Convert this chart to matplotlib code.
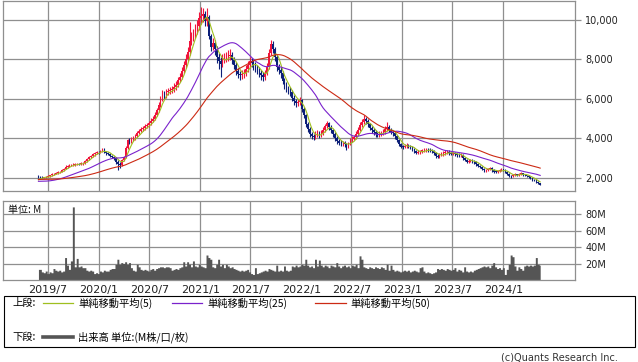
import matplotlib
matplotlib.use('Agg')
import matplotlib.pyplot as plt
import matplotlib.dates as mdates
from matplotlib.lines import Line2D
from matplotlib.patches import Rectangle
import numpy as np
import pandas as pd

W, H = 638, 362

# ---------------- data ----------------
week_start = '2019-05-27'

pre_close = [1950, 1970, 2000, 2020, 2010, 1990, 1980, 2000, 2030, 2050, 2040, 2020, 2000,
             1990, 2010, 2030, 2020, 2000, 1990, 1980, 1970, 1990, 2000, 2010, 1990,
             1980, 1960, 1950, 1930, 1900, 1870, 1840,
             1800, 1760, 1720, 1700, 1680, 1690, 1700, 1720, 1740, 1730, 1750, 1760, 1780,
             1790, 1800, 1850, 1950]

open_ = [
    2080, 2050, 2030, 2000, 2010, 2040, 2060, 2120, 2180, 2210,
    2230, 2280, 2300, 2380, 2450, 2560, 2600, 2620, 2640, 2660,
    2680, 2700, 2690, 2720, 2730, 2850, 2950, 3050, 3100, 3180,
    3250, 3300, 3280, 3350, 3450, 3300, 3230, 3200, 3120, 3060,
    3000, 2800, 2700, 2650, 2900, 3060, 3500, 3900, 3850, 3950,
    3990, 4100, 4250, 4380, 4450, 4500, 4620, 4660, 4750, 4880,
    4980, 5200, 5420, 5700, 6000, 6300, 6200, 6350, 6400, 6430,
    6500, 6600, 6700, 6950, 7100, 7400, 7690, 8000, 8350, 8900,
    9100, 9290, 9500, 9700, 10100, 10200, 10300, 9960, 10150, 9200,
    8620, 8800, 8500, 8110, 7900, 7780, 8000, 8060, 8110, 8150,
    8200, 7950, 7700, 7400, 7250, 7190, 7230, 7300, 7500, 7700,
    7900, 7800, 7690, 7580, 7480, 7300, 7200, 7100, 7300, 7600,
    8300, 8790, 8500, 8100, 7600, 7450, 7300, 6900, 6700, 6520,
    6450, 6340, 6050, 5880, 5780, 5850, 5920, 5500, 5150, 4700,
    4450, 4200, 4100, 4070, 4200, 4240, 4150, 4250, 4410, 4600,
    4750, 4550, 4400, 4200, 4000, 3850, 3780, 3740, 3740, 3700,
    3600, 3700, 3900, 3980, 4050, 4200, 4400, 4650, 4800, 4950,
    4850, 4700, 4520, 4400, 4300, 4200, 4160, 4220, 4250, 4320,
    4450, 4580, 4400, 4320, 4250, 4100, 3900, 3700, 3570, 3560,
    3600, 3650, 3600, 3560, 3450, 3350, 3250, 3280, 3310, 3380,
    3400, 3420, 3400, 3380, 3350, 3230, 3100, 3060, 3150, 3200,
    3230, 3280, 3310, 3250, 3220, 3230, 3200, 3150, 3140, 3150,
    3000, 2900, 2810, 2850, 2890, 2830, 2780, 2680, 2600, 2560,
    2450, 2380, 2390, 2420, 2470, 2380, 2300, 2290, 2320, 2380,
    2400, 2390, 2300, 2200, 2100, 2060, 2140, 2150, 2140, 2200,
    2220, 2150, 2120, 2080, 2050, 1970, 1900, 1880, 1780, 1720]

high = [
    2120, 2080, 2060, 2050, 2080, 2110, 2160, 2230, 2260, 2280,
    2330, 2360, 2430, 2500, 2620, 2660, 2680, 2700, 2740, 2740,
    2760, 2760, 2780, 2790, 2900, 3010, 3110, 3170, 3240, 3310,
    3370, 3360, 3420, 3520, 3480, 3350, 3290, 3250, 3170, 3110,
    3050, 2880, 2800, 2960, 3120, 3580, 3980, 4000, 4050, 4100,
    4200, 4350, 4480, 4560, 4620, 4720, 4780, 4870, 5000, 5100,
    5320, 5550, 5850, 6150, 6450, 6400, 6500, 6550, 6580, 6650,
    6780, 6880, 7100, 7280, 7600, 7900, 8250, 8600, 9880, 9400,
    9550, 9800, 10000, 10400, 10640, 10600, 10450, 10600, 10250, 9300,
    9100, 8950, 8650, 8300, 8100, 8250, 8300, 8350, 8450, 8500,
    8350, 8100, 7850, 7550, 7400, 7450, 7500, 7700, 7900, 8100,
    8050, 7950, 7850, 7700, 7600, 7450, 7350, 7450, 7800, 8500,
    8960, 8900, 8600, 8200, 7750, 7600, 7400, 7050, 6850, 6650,
    6600, 6450, 6200, 6000, 6000, 6100, 6000, 5600, 5250, 4800,
    4550, 4300, 4200, 4350, 4400, 4350, 4400, 4550, 4720, 4850,
    4800, 4650, 4480, 4300, 4100, 3950, 3900, 3880, 3850, 3780,
    3820, 4000, 4100, 4180, 4350, 4550, 4800, 4950, 5170, 5050,
    4950, 4780, 4600, 4500, 4400, 4320, 4350, 4380, 4450, 4600,
    4830, 4650, 4500, 4420, 4330, 4150, 3950, 3750, 3680, 3700,
    3750, 3720, 3680, 3600, 3500, 3400, 3380, 3420, 3470, 3500,
    3520, 3500, 3480, 3450, 3400, 3300, 3200, 3240, 3300, 3350,
    3380, 3400, 3380, 3320, 3320, 3300, 3260, 3230, 3240, 3200,
    3050, 2950, 2930, 2960, 2950, 2890, 2830, 2730, 2660, 2600,
    2500, 2460, 2490, 2540, 2520, 2430, 2370, 2390, 2450, 2470,
    2460, 2430, 2340, 2240, 2150, 2200, 2220, 2210, 2260, 2280,
    2260, 2200, 2160, 2130, 2090, 2010, 1950, 1910, 1810, 1750]

low = [
    2000, 1990, 1960, 1970, 1990, 2010, 2040, 2090, 2150, 2170,
    2200, 2240, 2270, 2340, 2420, 2510, 2550, 2570, 2580, 2600,
    2620, 2630, 2640, 2660, 2690, 2800, 2900, 3000, 3050, 3120,
    3200, 3210, 3230, 3300, 3250, 3170, 3130, 3060, 3000, 2920,
    2700, 2390, 2500, 2600, 2850, 3020, 3450, 3700, 3780, 3880,
    3920, 4050, 4200, 4300, 4350, 4420, 4530, 4580, 4680, 4800,
    4900, 5100, 5350, 5600, 5900, 6000, 6050, 6200, 6250, 6300,
    6350, 6450, 6600, 6850, 7000, 7300, 7550, 7900, 8200, 8700,
    8900, 9100, 9300, 9500, 9800, 9900, 9700, 9700, 9000, 8400,
    8450, 8200, 7800, 7500, 7100, 7600, 7800, 7850, 7900, 7950,
    7750, 7500, 7200, 7050, 6950, 7000, 7050, 7150, 7350, 7550,
    7600, 7450, 7350, 7250, 7100, 6950, 6900, 6950, 7200, 7500,
    8200, 8300, 7900, 7400, 7250, 7050, 6750, 6500, 6350, 6250,
    6150, 5900, 5700, 5600, 5650, 5700, 5350, 5000, 4550, 4300,
    4050, 3950, 3900, 3950, 4080, 4000, 4050, 4150, 4300, 4500,
    4400, 4250, 4050, 3850, 3700, 3650, 3600, 3600, 3550, 3400,
    3500, 3650, 3800, 3900, 3950, 4150, 4350, 4550, 4700, 4700,
    4550, 4400, 4250, 4150, 4050, 4050, 4050, 4100, 4150, 4200,
    4350, 4300, 4200, 4100, 3980, 3800, 3600, 3480, 3460, 3480,
    3520, 3500, 3450, 3350, 3250, 3180, 3180, 3200, 3250, 3300,
    3320, 3320, 3300, 3260, 3150, 3000, 2980, 3000, 3080, 3120,
    3170, 3200, 3150, 3130, 3140, 3100, 3060, 3050, 3050, 2920,
    2820, 2740, 2750, 2790, 2760, 2700, 2600, 2530, 2480, 2380,
    2300, 2310, 2340, 2380, 2310, 2230, 2220, 2240, 2280, 2320,
    2320, 2230, 2130, 2040, 2000, 2020, 2090, 2080, 2100, 2150,
    2090, 2060, 2020, 1990, 1920, 1850, 1820, 1730, 1670, 1610]

close = [
    2050, 2030, 2000, 2010, 2040, 2060, 2120, 2180, 2210, 2230,
    2280, 2300, 2380, 2450, 2560, 2600, 2620, 2640, 2660, 2680,
    2700, 2690, 2720, 2730, 2850, 2950, 3050, 3100, 3180, 3250,
    3300, 3280, 3350, 3450, 3300, 3230, 3200, 3120, 3060, 3000,
    2800, 2700, 2650, 2900, 3060, 3500, 3900, 3850, 3950, 3990,
    4100, 4250, 4380, 4450, 4500, 4620, 4660, 4750, 4880, 4980,
    5200, 5420, 5700, 6000, 6300, 6200, 6350, 6400, 6430, 6500,
    6600, 6700, 6950, 7100, 7400, 7690, 8000, 8350, 8900, 9100,
    9290, 9500, 9700, 10100, 10200, 10300, 9960, 10150, 9200, 8620,
    8800, 8500, 8110, 7900, 7780, 8000, 8060, 8110, 8150, 8200,
    7950, 7700, 7400, 7250, 7190, 7230, 7300, 7500, 7700, 7900,
    7800, 7690, 7580, 7480, 7300, 7200, 7100, 7300, 7600, 8300,
    8790, 8500, 8100, 7600, 7450, 7300, 6900, 6700, 6520, 6450,
    6340, 6050, 5880, 5780, 5850, 5920, 5500, 5150, 4700, 4450,
    4200, 4100, 4070, 4200, 4240, 4150, 4250, 4410, 4600, 4750,
    4550, 4400, 4200, 4000, 3850, 3780, 3740, 3740, 3700, 3600,
    3700, 3900, 3980, 4050, 4200, 4400, 4650, 4800, 4950, 4850,
    4700, 4520, 4400, 4300, 4200, 4160, 4220, 4250, 4320, 4450,
    4580, 4400, 4320, 4250, 4100, 3900, 3700, 3570, 3560, 3600,
    3650, 3600, 3560, 3450, 3350, 3250, 3280, 3310, 3380, 3400,
    3420, 3400, 3380, 3350, 3230, 3100, 3060, 3150, 3200, 3230,
    3280, 3310, 3250, 3220, 3230, 3200, 3150, 3140, 3150, 3000,
    2900, 2810, 2850, 2890, 2830, 2780, 2680, 2600, 2560, 2450,
    2380, 2390, 2420, 2470, 2380, 2300, 2290, 2320, 2380, 2400,
    2390, 2300, 2200, 2100, 2060, 2140, 2150, 2140, 2200, 2220,
    2150, 2120, 2080, 2050, 1970, 1900, 1880, 1780, 1720, 1650]

# weekly volume, millions
volume = [
    14, 14, 11, 10, 12, 9, 11, 10, 15, 13,
    12, 13, 11, 12, 28, 19, 14, 24, 88, 17,
    27, 17, 18, 16, 16, 13, 12, 13, 12, 9,
    10, 9, 12, 11, 13, 12, 12, 14, 15, 15,
    20, 26, 20, 22, 21, 23, 20, 22, 16, 13,
    12, 20, 17, 14, 13, 14, 13, 12, 14, 15,
    13, 15, 16, 17, 17, 16, 17, 17, 16, 13,
    14, 15, 14, 16, 17, 23, 18, 23, 20, 17,
    24, 18, 17, 20, 18, 17, 16, 31, 28, 26,
    17, 16, 20, 26, 18, 20, 16, 20, 18, 16,
    17, 15, 14, 13, 12, 13, 12, 13, 14, 11,
    9, 8, 16, 9, 10, 11, 12, 13, 12, 15,
    14, 13, 12, 19, 12, 13, 12, 18, 13, 12,
    13, 18, 17, 19, 17, 18, 20, 19, 26, 19,
    17, 18, 16, 26, 18, 25, 19, 17, 19, 18,
    16, 19, 18, 17, 22, 18, 16, 18, 19, 17,
    18, 16, 19, 18, 20, 16, 30, 26, 17, 16,
    15, 17, 16, 15, 17, 16, 15, 17, 16, 14,
    20, 13, 19, 14, 12, 13, 12, 11, 12, 13,
    12, 13, 11, 12, 13, 12, 11, 16, 17, 12,
    10, 11, 10, 9, 10, 11, 15, 14, 15, 14,
    13, 15, 14, 13, 14, 16, 12, 14, 13, 11,
    17, 12, 11, 12, 11, 13, 14, 15, 16, 17,
    18, 17, 18, 16, 19, 22, 17, 15, 16, 14,
    16, 8, 14, 20, 31, 29, 18, 13, 17, 15,
    13, 18, 19, 18, 19, 18, 19, 28, 20, 19]

ma_periods = [5, 25, 50]
price_ticks = [2000, 4000, 6000, 8000, 10000]
volume_ticks = [20, 40, 60, 80]
x_tick_dates = ['2019-07-01', '2020-01-01', '2020-07-01', '2021-01-01', '2021-07-01',
                '2022-01-01', '2022-07-01', '2023-01-01', '2023-07-01', '2024-01-01']
x_tick_labels = ['2019/7', '2020/1', '2020/7', '2021/1', '2021/7',
                 '2022/1', '2022/7', '2023/1', '2023/7', '2024/1']
legend_labels = ['単純移動平均(5)', '単純移動平均(25)', '単純移動平均(50)']
legend_top = '上段:'
legend_bottom = '下段:'
volume_label = '出来高 単位:(M株/口/枚)'
unit_label = '単位: M'
credit = '(c)Quants Research Inc.'

# ---------------- styles ----------------
UP = '#f0143c'
DOWN = '#0c1f78'
MA_COLORS = ['#9fbf1f', '#7a22cc', '#cc2a14']
GRID = '#8f8f8f'
VOL = '#555555'
CJK = ['Noto Sans CJK JP', 'DejaVu Sans']
plt.rcParams['font.family'] = ['DejaVu Sans', 'Noto Sans CJK JP']

dates = pd.date_range(week_start, periods=len(close), freq='7D')
x = mdates.date2num(dates)
o = np.array(open_, float)
c = np.array(close, float)
hi = np.array(high, float)
lo = np.array(low, float)
series = pd.Series(pre_close + close, dtype=float)
mas = [series.rolling(p).mean().iloc[len(pre_close):].values for p in ma_periods]

fig = plt.figure(figsize=(W / 100, H / 100), dpi=100)
fig.patch.set_facecolor('white')

def box(l, t, r, b):
    return [l / W, 1 - b / H, (r - l) / W, (b - t) / H]

xl = (mdates.date2num(pd.Timestamp('2019-01-20')), mdates.date2num(pd.Timestamp('2024-09-14')))
tick_x = mdates.date2num(pd.to_datetime(x_tick_dates))

ax = fig.add_axes(box(3.3, 0.5, 574.5, 190.7))
axv = fig.add_axes(box(3.3, 201, 574.5, 280))

for a in (ax, axv):
    a.set_xlim(*xl)
    a.set_xticks(tick_x)
    a.grid(True, color=GRID, lw=0.9)
    a.set_axisbelow(True)
    for s in a.spines.values():
        s.set_color(GRID)
        s.set_linewidth(0.9)
    a.yaxis.tick_right()
    a.tick_params(axis='y', colors=GRID, length=4.3, width=0.9, pad=3.5,
                  labelcolor='#222222', labelsize=7)
    a.tick_params(axis='x', length=0)

# candles
cols = np.where(c >= o, UP, DOWN)
ax.vlines(x, lo, hi, colors=cols, lw=0.8, zorder=2)
body_bottom = np.minimum(o, c)
body_h = np.maximum(np.abs(c - o), 25)
ax.bar(x, body_h, bottom=body_bottom, width=5.5, color=cols, lw=0, zorder=3)
for m, col in zip(mas, MA_COLORS):
    ax.plot(x, m, color=col, lw=0.8, zorder=4)
ax.set_ylim(1340, 10975)
ax.set_yticks(price_ticks)
ax.set_yticklabels([f'{v:,}' for v in price_ticks])
ax.set_xticklabels([])

# volume: one bar per week, drawn as a continuous stepped area
axv.fill_between(x, volume, 0, step='mid', color=VOL, lw=0, zorder=2)
axv.set_ylim(1.4, 95)
axv.set_yticks(volume_ticks)
axv.set_yticklabels([f'{v}M' for v in volume_ticks])
axv.set_xticklabels(x_tick_labels)
axv.tick_params(axis='x', labelsize=8, pad=3.5, labelcolor='#222222')
axv.text(0.009, 0.89, unit_label, transform=axv.transAxes, fontsize=7.2,
         family=CJK, va='center', ha='left', color='#111111', zorder=5)

# legend overlay in pixel coordinates
ov = fig.add_axes([0, 0, 1, 1])
ov.set_xlim(0, W)
ov.set_ylim(H, 0)
ov.axis('off')
ov.patch.set_alpha(0)
ov.add_patch(Rectangle((3.5, 295.5), 631, 51.5, fill=False, ec='black', lw=0.8))
fs = 7.4
ov.text(12, 303, legend_top, family=CJK, fontsize=fs, va='center', ha='left')
seg = [(43, 73, 78), (172, 202, 207), (315, 346, 350)]
for (x0, x1, tx), col, lab in zip(seg, MA_COLORS, legend_labels):
    ov.add_line(Line2D([x0, x1], [303, 303], color=col, lw=0.9))
    ov.text(tx, 303, lab, family=CJK, fontsize=fs, va='center', ha='left')
ov.text(12, 337, legend_bottom, family=CJK, fontsize=fs, va='center', ha='left')
ov.add_line(Line2D([43, 73], [337, 337], color=VOL, lw=2.6))
ov.text(78, 337, volume_label, family=CJK, fontsize=fs, va='center', ha='left')
ov.text(618, 357.5, credit, fontsize=7, va='center', ha='right', color='#333333')

fig.savefig('out.png', dpi=100, facecolor='white')
